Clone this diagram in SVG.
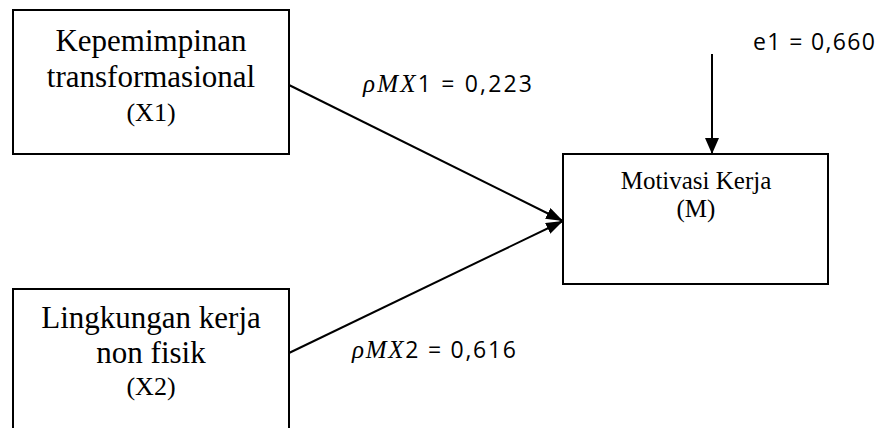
<svg xmlns="http://www.w3.org/2000/svg" width="879" height="428" viewBox="0 0 879 428">
<style>
.box{fill:#fff;stroke:#000;stroke-width:2}
.t{font-family:"Liberation Serif","Times New Roman",serif;fill:#000;text-anchor:middle}
.big{font-size:31px}
.sm{font-size:26px}
.md{font-size:25px}
.lbl{font-family:"Open Sans","Liberation Sans",sans-serif;font-size:23px;fill:#000}
.it{font-family:"Liberation Serif","DejaVu Serif",serif;font-style:italic;font-size:25px}
.conn{stroke:#000;stroke-width:2;fill:none}
</style>
<defs>
<marker id="ah" markerUnits="userSpaceOnUse" viewBox="0 0 17 12" markerWidth="17" markerHeight="12" refX="17" refY="6" orient="auto">
<path d="M0,0 L17,6 L0,12 z" fill="#000"/>
</marker>
<marker id="ah2" markerUnits="userSpaceOnUse" viewBox="0 0 16 14" markerWidth="16" markerHeight="14" refX="16" refY="7" orient="auto">
<path d="M0,0 L16,7 L0,14 z" fill="#000"/>
</marker>
</defs>
<g id="connectors">
<line class="conn" x1="289" y1="85" x2="563" y2="221" marker-end="url(#ah)"/>
<line class="conn" x1="289" y1="353" x2="563" y2="221" marker-end="url(#ah)"/>
<line class="conn" x1="712" y1="54" x2="712" y2="154" marker-end="url(#ah2)"/>
</g>
<g id="X1">
<rect class="box" x="13" y="10" width="276" height="144"/>
<text class="t big" x="151" y="51">Kepemimpinan</text>
<text class="t big" x="151" y="87">transformasional</text>
<text class="t sm" x="151" y="121">(X1)</text>
</g>
<g id="X2">
<rect class="box" x="13" y="289" width="276" height="160"/>
<text class="t big" x="151" y="328">Lingkungan kerja</text>
<text class="t big" x="151" y="363">non fisik</text>
<text class="t sm" x="151" y="395">(X2)</text>
</g>
<g id="M">
<rect class="box" x="563" y="154" width="265" height="130"/>
<text class="t md" x="696" y="189">Motivasi Kerja</text>
<text class="t md" x="696" y="217">(M)</text>
</g>
<g id="labels">
<text class="lbl" x="363" y="92" textLength="169" lengthAdjust="spacing"><tspan class="it">ρMX</tspan>1 = 0,223</text>
<text class="lbl" x="352" y="358" textLength="164" lengthAdjust="spacing"><tspan class="it">ρMX</tspan>2 = 0,616</text>
<text class="lbl" x="753" y="50" textLength="122" lengthAdjust="spacing">e1 = 0,660</text>
</g>
</svg>
